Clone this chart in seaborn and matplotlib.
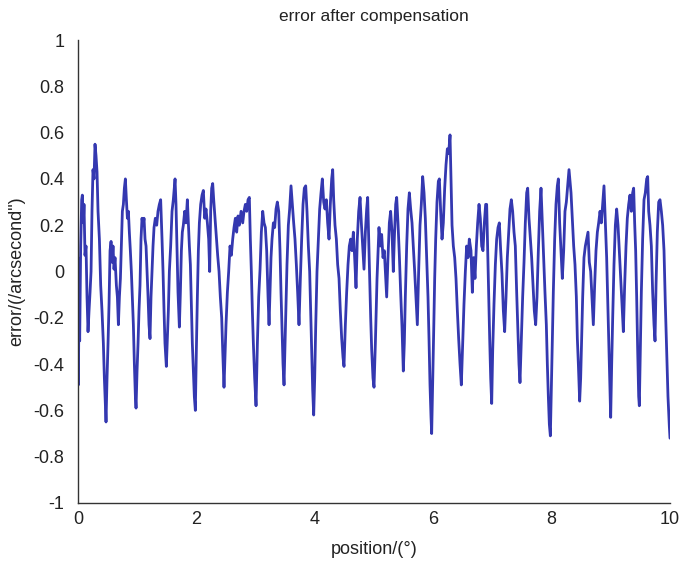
import numpy as np
import pandas as pd
import matplotlib
matplotlib.use('Agg')
import matplotlib.pyplot as plt
import seaborn as sns

# values (position in degrees, error in arcsecond)
position = [
    0.000, 0.006, 0.017, 0.028, 0.045, 0.062, 0.073, 0.090, 0.101, 0.118, 0.135, 0.152, 0.169, 0.186, 0.203,
    0.220, 0.236, 0.253, 0.270, 0.287, 0.304, 0.321, 0.338, 0.361, 0.383, 0.405, 0.428, 0.445, 0.462, 0.473,
    0.490, 0.507, 0.524, 0.541, 0.558, 0.575, 0.591, 0.608, 0.625, 0.648, 0.665, 0.682, 0.699, 0.716, 0.732,
    0.749, 0.766, 0.783, 0.800, 0.817, 0.834, 0.851, 0.867, 0.884, 0.901, 0.918, 0.935, 0.952, 0.969, 0.980,
    0.997, 1.014, 1.030, 1.047, 1.064, 1.081, 1.098, 1.115, 1.132, 1.149, 1.166, 1.183, 1.199, 1.216, 1.233,
    1.250, 1.267, 1.284, 1.306, 1.329, 1.351, 1.374, 1.396, 1.419, 1.436, 1.453, 1.469, 1.492, 1.509, 1.526,
    1.543, 1.565, 1.588, 1.610, 1.639, 1.655, 1.672, 1.689, 1.712, 1.729, 1.746, 1.762, 1.779, 1.802, 1.824,
    1.847, 1.864, 1.881, 1.898, 1.914, 1.931, 1.948, 1.965, 1.982, 1.999, 2.016, 2.033, 2.050, 2.072, 2.095,
    2.117, 2.140, 2.162, 2.185, 2.207, 2.224, 2.241, 2.258, 2.275, 2.292, 2.314, 2.337, 2.359, 2.382, 2.404,
    2.427, 2.444, 2.466, 2.483, 2.500, 2.523, 2.545, 2.568, 2.590, 2.613, 2.635, 2.658, 2.680, 2.703, 2.725,
    2.754, 2.782, 2.804, 2.827, 2.849, 2.872, 2.894, 2.911, 2.928, 2.945, 2.962, 2.984, 3.007, 3.030, 3.052,
    3.075, 3.097, 3.120, 3.142, 3.165, 3.187, 3.210, 3.227, 3.243, 3.260, 3.277, 3.300, 3.322, 3.345, 3.367,
    3.390, 3.412, 3.429, 3.446, 3.463, 3.480, 3.497, 3.514, 3.530, 3.553, 3.575, 3.598, 3.620, 3.643, 3.665,
    3.688, 3.710, 3.733, 3.756, 3.778, 3.801, 3.823, 3.846, 3.868, 3.891, 3.913, 3.930, 3.947, 3.964, 3.981,
    3.998, 4.015, 4.037, 4.060, 4.082, 4.105, 4.127, 4.150, 4.172, 4.195, 4.217, 4.240, 4.262, 4.285, 4.302,
    4.319, 4.341, 4.364, 4.386, 4.409, 4.431, 4.454, 4.476, 4.493, 4.516, 4.538, 4.561, 4.583, 4.606, 4.628,
    4.651, 4.673, 4.696, 4.718, 4.741, 4.764, 4.786, 4.809, 4.831, 4.854, 4.876, 4.893, 4.910, 4.927, 4.944,
    4.961, 4.983, 5.000, 5.023, 5.034, 5.051, 5.068, 5.084, 5.107, 5.129, 5.152, 5.174, 5.197, 5.214, 5.236,
    5.259, 5.281, 5.304, 5.326, 5.343, 5.366, 5.383, 5.405, 5.428, 5.450, 5.473, 5.495, 5.512, 5.529, 5.552,
    5.574, 5.597, 5.619, 5.642, 5.664, 5.687, 5.709, 5.732, 5.754, 5.777, 5.799, 5.822, 5.845, 5.867, 5.890,
    5.912, 5.929, 5.946, 5.963, 5.974, 5.991, 6.008, 6.025, 6.042, 6.064, 6.087, 6.104, 6.126, 6.149, 6.171,
    6.194, 6.216, 6.239, 6.261, 6.284, 6.301, 6.318, 6.340, 6.363, 6.385, 6.408, 6.430, 6.453, 6.475, 6.498,
    6.520, 6.543, 6.565, 6.588, 6.610, 6.638, 6.661, 6.683, 6.706, 6.729, 6.751, 6.774, 6.796, 6.819, 6.841,
    6.864, 6.886, 6.903, 6.920, 6.937, 6.954, 6.971, 6.988, 7.005, 7.027, 7.050, 7.072, 7.095, 7.117, 7.140,
    7.162, 7.185, 7.207, 7.230, 7.252, 7.275, 7.297, 7.320, 7.342, 7.365, 7.387, 7.410, 7.432, 7.449, 7.466,
    7.489, 7.511, 7.534, 7.556, 7.579, 7.596, 7.618, 7.641, 7.663, 7.686, 7.708, 7.731, 7.753, 7.776, 7.798,
    7.821, 7.843, 7.866, 7.888, 7.911, 7.928, 7.945, 7.962, 7.979, 7.996, 8.013, 8.029, 8.052, 8.074, 8.097,
    8.114, 8.136, 8.159, 8.181, 8.204, 8.226, 8.249, 8.271, 8.294, 8.328, 8.350, 8.373, 8.395, 8.418, 8.435,
    8.452, 8.474, 8.491, 8.508, 8.525, 8.547, 8.570, 8.592, 8.615, 8.637, 8.660, 8.682, 8.705, 8.727, 8.750,
    8.773, 8.795, 8.818, 8.840, 8.863, 8.885, 8.908, 8.930, 8.947, 8.964, 8.981, 8.998, 9.015, 9.032, 9.054,
    9.077, 9.099, 9.122, 9.144, 9.167, 9.189, 9.212, 9.234, 9.257, 9.279, 9.302, 9.324, 9.347, 9.369, 9.386,
    9.403, 9.420, 9.437, 9.454, 9.471, 9.482, 9.499, 9.516, 9.538, 9.561, 9.583, 9.606, 9.623, 9.640, 9.662,
    9.685, 9.707, 9.730, 9.747, 9.764, 9.786, 9.809, 9.831, 9.854, 9.876, 9.899, 9.921, 9.944, 9.966, 9.989,
    10.000,
]

error = [
    0.06, -0.49, -0.11, -0.30, 0.11, 0.31, 0.33, 0.21, 0.29, 0.07, 0.11, -0.11, -0.26, -0.17, -0.09,
    0.00, 0.26, 0.44, 0.40, 0.55, 0.50, 0.43, 0.26, 0.14, -0.06, -0.17, -0.31, -0.46, -0.57, -0.65,
    -0.46, -0.31, -0.14, 0.09, 0.13, 0.04, 0.11, 0.01, 0.06, -0.06, -0.11, -0.23, -0.11, -0.03, 0.11,
    0.26, 0.29, 0.36, 0.40, 0.31, 0.23, 0.26, 0.17, 0.09, 0.00, -0.11, -0.23, -0.40, -0.54, -0.59,
    -0.43, -0.31, -0.17, -0.06, 0.14, 0.23, 0.20, 0.23, 0.14, 0.11, 0.00, -0.11, -0.23, -0.29, -0.11,
    0.00, 0.11, 0.19, 0.23, 0.20, 0.26, 0.29, 0.31, 0.14, 0.00, -0.17, -0.31, -0.41, -0.29, -0.17,
    0.00, 0.11, 0.26, 0.31, 0.40, 0.29, 0.09, -0.09, -0.24, -0.09, 0.09, 0.17, 0.20, 0.26, 0.21,
    0.31, 0.21, 0.11, 0.03, -0.14, -0.31, -0.43, -0.54, -0.60, -0.34, -0.11, 0.09, 0.21, 0.29, 0.33,
    0.35, 0.23, 0.27, 0.21, 0.14, 0.00, 0.26, 0.36, 0.38, 0.31, 0.23, 0.14, 0.07, 0.00, -0.11,
    -0.20, -0.34, -0.50, -0.37, -0.23, -0.09, 0.00, 0.11, 0.07, 0.14, 0.19, 0.23, 0.17, 0.24, 0.20,
    0.26, 0.21, 0.26, 0.29, 0.26, 0.31, 0.32, 0.14, 0.00, -0.17, -0.31, -0.46, -0.58, -0.31, -0.11,
    0.01, 0.17, 0.26, 0.21, 0.19, 0.09, -0.11, -0.23, -0.09, 0.06, 0.14, 0.21, 0.19, 0.27, 0.30,
    0.26, 0.09, -0.09, -0.24, -0.40, -0.49, -0.31, -0.14, 0.03, 0.20, 0.27, 0.37, 0.29, 0.21, 0.14,
    0.03, -0.09, -0.23, -0.03, 0.14, 0.29, 0.36, 0.37, 0.26, 0.11, 0.00, -0.17, -0.34, -0.51, -0.62,
    -0.46, -0.24, 0.00, 0.14, 0.27, 0.34, 0.40, 0.30, 0.27, 0.31, 0.21, 0.14, 0.29, 0.40, 0.44,
    0.31, 0.20, 0.14, 0.03, -0.03, -0.17, -0.29, -0.37, -0.41, -0.23, -0.09, 0.03, 0.11, 0.14, 0.09,
    0.17, 0.06, -0.07, 0.14, 0.26, 0.32, 0.21, 0.11, 0.01, 0.17, 0.27, 0.32, 0.14, -0.03, -0.20,
    -0.34, -0.46, -0.50, -0.31, -0.20, -0.03, 0.09, 0.19, 0.11, 0.16, 0.06, 0.09, -0.03, -0.11, 0.06,
    0.21, 0.26, 0.17, 0.00, 0.14, 0.29, 0.32, 0.21, 0.07, -0.09, -0.24, -0.43, -0.31, -0.11, 0.11,
    0.27, 0.34, 0.27, 0.21, 0.11, 0.00, -0.11, -0.23, 0.00, 0.20, 0.29, 0.41, 0.34, 0.23, 0.06,
    -0.11, -0.29, -0.49, -0.63, -0.70, -0.49, -0.26, -0.03, 0.14, 0.30, 0.39, 0.40, 0.26, 0.14, 0.21,
    0.36, 0.46, 0.53, 0.51, 0.59, 0.40, 0.20, 0.11, 0.06, -0.03, -0.17, -0.29, -0.40, -0.49, -0.31,
    -0.14, 0.00, 0.11, 0.06, 0.14, 0.09, -0.09, 0.06, -0.03, 0.11, 0.21, 0.29, 0.23, 0.11, 0.09,
    0.21, 0.29, 0.29, 0.09, -0.09, -0.29, -0.46, -0.57, -0.34, -0.14, 0.03, 0.14, 0.19, 0.21, 0.09,
    -0.01, -0.17, -0.26, -0.11, 0.06, 0.17, 0.27, 0.31, 0.26, 0.17, 0.11, -0.09, -0.26, -0.40, -0.48,
    -0.29, -0.11, 0.04, 0.21, 0.34, 0.36, 0.23, 0.14, 0.06, -0.06, -0.17, -0.23, -0.11, 0.09, 0.26,
    0.36, 0.21, 0.06, -0.09, -0.23, -0.40, -0.54, -0.66, -0.71, -0.49, -0.29, -0.09, 0.14, 0.29, 0.37,
    0.40, 0.21, 0.09, -0.03, 0.09, 0.26, 0.30, 0.37, 0.44, 0.34, 0.23, 0.11, 0.03, -0.11, -0.29,
    -0.40, -0.56, -0.46, -0.29, -0.11, 0.06, 0.11, 0.14, 0.17, 0.04, 0.00, -0.11, -0.23, -0.06, 0.09,
    0.17, 0.21, 0.26, 0.21, 0.29, 0.37, 0.21, 0.06, -0.11, -0.29, -0.46, -0.63, -0.40, -0.20, 0.03,
    0.20, 0.27, 0.20, 0.09, -0.03, -0.14, -0.26, -0.06, 0.11, 0.23, 0.29, 0.33, 0.26, 0.34, 0.36,
    0.21, 0.09, -0.11, -0.34, -0.54, -0.58, -0.34, -0.09, 0.14, 0.31, 0.34, 0.40, 0.41, 0.26, 0.20,
    0.11, -0.09, -0.23, -0.30, -0.06, 0.17, 0.30, 0.31, 0.26, 0.20, 0.09, -0.14, -0.34, -0.54, -0.67,
    -0.72,
]

y_ticks = [-1, -0.8, -0.6, -0.4, -0.2, 0, 0.2, 0.4, 0.6, 0.8, 1]
x_ticks = [0, 2, 4, 6, 8, 10]

df = pd.DataFrame({'position': position, 'error': error})

sns.set_style('white')
plt.rcParams['font.family'] = ['Liberation Sans', 'DejaVu Sans']

fig = plt.figure(figsize=(6.82, 5.62), dpi=100)
ax = fig.add_axes([0.1144, 0.105, 0.868, 0.8238])

sns.lineplot(data=df, x='position', y='error', sort=False, estimator=None,
             color='#3438b0', linewidth=2.0, ax=ax)

ax.set_xlim(0, 10)
ax.set_ylim(-1, 1)
ax.set_xticks(x_ticks)
ax.set_yticks(y_ticks)
ax.set_yticklabels(['%g' % v for v in y_ticks])

sns.despine(ax=ax)
for s in ['left', 'bottom']:
    ax.spines[s].set_color('#333333')
    ax.spines[s].set_linewidth(1.0)
ax.tick_params(direction='in', length=5, width=0.9, labelsize=13, colors='#222222')
ax.tick_params(axis='x', pad=6)
ax.tick_params(axis='y', pad=10)

ax.set_title('error after compensation', fontsize=12.5, pad=14, color='#222222')
ax.set_xlabel('position/(°)', fontsize=13, labelpad=9, color='#222222')
ax.set_ylabel('error/(/arcsecond")', fontsize=13, labelpad=6, color='#222222')
ax.grid(False)

fig.savefig('out.png', dpi=100)
